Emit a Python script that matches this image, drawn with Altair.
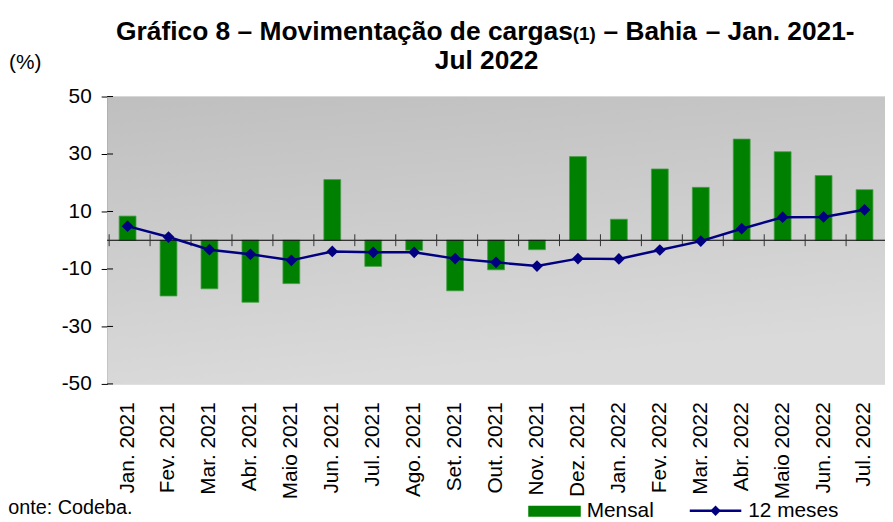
import altair as alt
import pandas as pd

months = ["Jan. 2021", "Fev. 2021", "Mar. 2021", "Abr. 2021", "Maio 2021", "Jun. 2021",
          "Jul. 2021", "Ago. 2021", "Set. 2021", "Out. 2021", "Nov. 2021", "Dez. 2021",
          "Jan. 2022", "Fev. 2022", "Mar. 2022", "Abr. 2022", "Maio 2022", "Jun. 2022",
          "Jul. 2022"]
mensal = [8.4, -19.4, -16.9, -21.6, -15.1, 21.1, -9.1, -3.5, -17.6, -10.3, -3.3, 29.1,
          7.3, 24.8, 18.4, 35.2, 30.8, 22.5, 17.6]
doze_meses = [4.9, 1.1, -3.3, -4.9, -7.0, -3.9, -4.2, -4.2, -6.4, -7.7, -9.0, -6.4,
              -6.5, -3.4, -0.3, 4.0, 8.0, 8.1, 10.6]
y_ticks = [-50, -30, -10, 10, 30, 50]

df = pd.DataFrame({"month": months, "mensal": mensal, "doze": doze_meses})
tick_df = pd.DataFrame({"v": y_ticks})

W, H = 785, 290
FONT = "Liberation Sans"
GREEN = "#008000"
NAVY = "#000080"

xenc = alt.X("month:N", sort=months, title=None)
ysc = alt.Scale(domain=[-50, 50], nice=False)

one = pd.DataFrame({"t": [""]})

bg = alt.Chart(one).mark_rect(
    fill=alt.Gradient(gradient="linear", x1=0, y1=0, x2=0.25, y2=1,
                      stops=[alt.GradientStop(color="#bfbfbf", offset=0),
                             alt.GradientStop(color="#dadada", offset=1)])
).encode(x=alt.value(0), x2=alt.value(W), y=alt.value(0), y2=alt.value(H))

bars = alt.Chart(df).mark_bar(color=GREEN, size=17, stroke="#4a9f4a", strokeWidth=0.8).encode(
    x=alt.X("month:N", sort=months, title=None,
            axis=alt.Axis(orient="bottom", labelAngle=-90, labelFontSize=21, domain=False,
                          ticks=False, labelPadding=18, labelColor="black",
                          labelFont=FONT, labelAlign="right", labelBaseline="middle")),
    y=alt.Y("mensal:Q", scale=ysc, title=None,
            axis=alt.Axis(values=y_ticks, labelFontSize=21, labelColor="black", labelFont=FONT,
                          labelExpr="'' + datum.value",
                          domainColor="black", tickColor="black", tickSize=6, labelPadding=10,
                          grid=False)),
)

zero = alt.Chart(one).mark_rule(color="black", strokeWidth=1.2).encode(
    y=alt.Y(datum=0, scale=ysc, title=None))

bticks = alt.Chart(df).mark_rule(color="#333333", strokeWidth=1, yOffset=-6, y2Offset=6).encode(
    x=alt.X("month:N", sort=months, title=None, bandPosition=0),
    y=alt.Y(datum=0, scale=ysc, title=None),
    y2=alt.Y2(datum=0),
)

yin = alt.Chart(tick_df).mark_rule(color="black", strokeWidth=1).encode(
    x=alt.value(0), x2=alt.value(6),
    y=alt.Y("v:Q", scale=ysc, title=None))

line = alt.Chart(df).mark_line(color=NAVY, strokeWidth=2.5).encode(
    x=xenc, y=alt.Y("doze:Q", scale=ysc, title=None))
pts = alt.Chart(df).mark_point(shape="diamond", filled=True, size=140, color=NAVY, opacity=1).encode(
    x=xenc, y=alt.Y("doze:Q", scale=ysc, title=None))


def txt(s, x, y, size, weight="normal", align="left", baseline="alphabetic"):
    return alt.Chart(pd.DataFrame({"t": [s]})).mark_text(
        x=x, y=y, fontSize=size, fontWeight=weight, align=align, baseline=baseline,
        font=FONT, color="black").encode(text="t:N")


texts = [
    txt("Gráfico 8 – Movimentação de cargas", 9, -57, 26.6, "bold"),
    txt("(1)", 470, -57, 19, "bold"),
    txt("– Bahia", 501, -57, 26.5, "bold"),
    txt("– Jan. 2021-", 604, -57, 26.5, "bold"),
    txt("Jul 2022", 383, -28, 26.5, "bold", align="center"),
    txt("(%)", -99, -34, 21, baseline="middle"),
    txt("Fonte: Codeba.", -112, 415, 20, baseline="middle"),
    txt("Mensal", 484, 418, 21, baseline="middle"),
    txt("12 meses", 647, 418, 21, baseline="middle"),
]

leg_rect = alt.Chart(one).mark_rect(color=GREEN).encode(
    x=alt.value(425), x2=alt.value(478), y=alt.value(413), y2=alt.value(424))
leg_line = alt.Chart(one).mark_rule(color=NAVY, strokeWidth=2.5).encode(
    x=alt.value(588), x2=alt.value(640), y=alt.value(418))
leg_pt = alt.Chart(one).mark_point(shape="diamond", filled=True, size=110, color=NAVY, opacity=1).encode(
    x=alt.value(614), y=alt.value(418))

chart = alt.layer(bg, bars, zero, bticks, yin, line, pts, leg_rect, leg_line, leg_pt, *texts).properties(
    width=W, height=H,
    autosize=alt.AutoSizeParams(type="none"),
    padding={"left": 100, "top": 87, "right": 0, "bottom": 137},
).configure_view(stroke=None).configure(font=FONT)

chart.save("out.html", embed_options={"renderer": "svg", "actions": False})
